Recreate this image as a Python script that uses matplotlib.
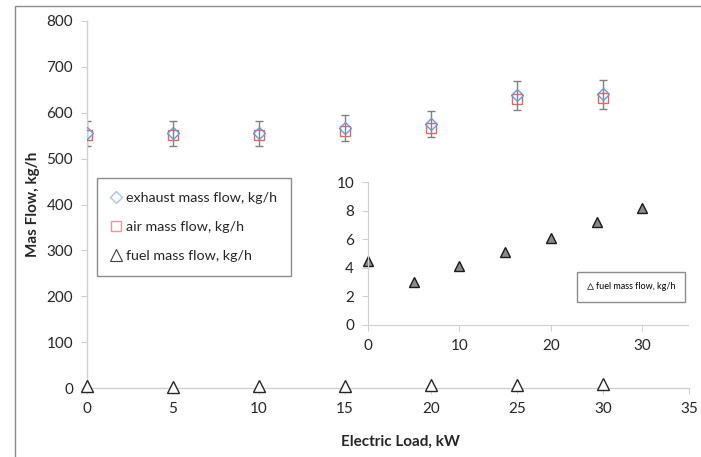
import matplotlib
matplotlib.use("Agg")
import matplotlib.pyplot as plt
from matplotlib.patches import Rectangle
from matplotlib.lines import Line2D

plt.rcParams['font.family'] = ['Lato', 'DejaVu Sans']

load_kw = [0, 5, 10, 15, 20, 25, 30]
exhaust_flow = [555, 555, 555, 566, 575, 638, 640]
air_flow = [551, 551, 551, 560, 566, 631, 632]
fuel_flow = [4.5, 3.0, 4.1, 5.1, 6.1, 7.2, 8.2]
exhaust_err = [v * 0.05 for v in exhaust_flow]

x_ticks = [0, 5, 10, 15, 20, 25, 30, 35]
y_ticks = [0, 100, 200, 300, 400, 500, 600, 700, 800]
inset_x_ticks = [0, 10, 20, 30]
inset_y_ticks = [0, 2, 4, 6, 8, 10]

W, H = 701, 457
fig = plt.figure(figsize=(W / 100, H / 100), dpi=100)

# outer border
fig.patches.append(Rectangle((15 / W, -0.1), 2.0, 1 - 6 / H + 0.1, transform=fig.transFigure,
                             fill=False, edgecolor='#8c8c8c', lw=1.0, zorder=0))

spine_c = '#d0d0d0'

ax = fig.add_axes([87 / W, 1 - 388 / H, 602 / W, (388 - 21) / H])
ax.set_xlim(0, 35)
ax.set_ylim(0, 800)
ax.set_xticks(x_ticks)
ax.set_yticks(y_ticks)
for s in ['top', 'right']:
    ax.spines[s].set_visible(False)
for s in ['left', 'bottom']:
    ax.spines[s].set_color(spine_c)
    ax.spines[s].set_linewidth(1.0)
ax.tick_params(direction='out', length=4, color=spine_c, labelsize=11, labelcolor='#262626', pad=6)
ax.set_facecolor('none')

ax.errorbar(load_kw, exhaust_flow, yerr=exhaust_err, fmt='none', ecolor='#808080',
            elinewidth=1.0, capsize=3, capthick=1.0, zorder=2)
ax.plot(load_kw, air_flow, ls='none', marker='s', ms=7.5, mfc='none', mec='#e06666', mew=1.0,
        label='air mass flow, kg/h', zorder=3)
ax.plot(load_kw, exhaust_flow, ls='none', marker='D', ms=6.5, mfc='none', mec='#6b9bd8', mew=1.0,
        label='exhaust mass flow, kg/h', zorder=4)
ax.plot(load_kw, fuel_flow, ls='none', marker='^', ms=8, mfc='white', mec='#262626', mew=1.0,
        label='fuel mass flow, kg/h', zorder=4, clip_on=False)

ax.set_xlabel('Electric Load, kW', fontsize=11, fontweight='bold', color='#262626')
ax.xaxis.set_label_coords((400 - 87) / 602, -(435 - 388) / 367)
ax.set_ylabel('Mas Flow, kg/h', fontsize=11, fontweight='bold', color='#262626')
ax.yaxis.set_label_coords(-(87 - 40) / 602, 0.5)

labels = ['exhaust mass flow, kg/h', 'air mass flow, kg/h', 'fuel mass flow, kg/h']
lh = [Line2D([], [], ls='none', marker='D', ms=6.5, mfc='none', mec='#a9c4e8', mew=1.0),
      Line2D([], [], ls='none', marker='s', ms=7.5, mfc='none', mec='#e89a9a', mew=1.0),
      Line2D([], [], ls='none', marker='^', ms=8, mfc='none', mec='#404040', mew=0.8)]
leg = ax.legend(lh, labels, loc='upper left',
                bbox_to_anchor=(97 / W, 1 - 178 / H), bbox_transform=fig.transFigure,
                fancybox=False, edgecolor='#8c8c8c', framealpha=1, fontsize=10.3,
                handlelength=0.8, handletextpad=0.3, labelspacing=1.2, borderpad=0.95,
                borderaxespad=0, numpoints=1)
leg.get_frame().set_linewidth(1.0)
for t in leg.get_texts():
    t.set_color('#262626')

# inset
ai = fig.add_axes([368 / W, 1 - 325 / H, 320 / W, (325 - 182) / H])
ai.set_facecolor('none')
ai.set_xlim(0, 35)
ai.set_ylim(0, 10)
ai.set_xticks(inset_x_ticks)
ai.set_yticks(inset_y_ticks)
for s in ['top', 'right']:
    ai.spines[s].set_visible(False)
for s in ['left', 'bottom']:
    ai.spines[s].set_color(spine_c)
ai.tick_params(direction='out', length=4, color=spine_c, labelsize=11, labelcolor='#262626', pad=6)
ai.plot(load_kw, fuel_flow, ls='none', marker='^', ms=6.5, mfc='#8a8a8a', mec='#1a1a1a', mew=1.0,
        label='fuel mass flow, kg/h', clip_on=False)
ileg = ai.legend([Line2D([], [], ls='none', marker='^', ms=5, mfc='none', mec='#404040', mew=0.6)],
                 ['fuel mass flow, kg/h'], loc='upper left',
                 bbox_to_anchor=(577 / W, 1 - 272 / H), bbox_transform=fig.transFigure,
                 fancybox=False, edgecolor='#8c8c8c', framealpha=1, fontsize=6.5,
                 handlelength=0.6, handletextpad=0.3, borderpad=1.15, borderaxespad=0,
                 numpoints=1)
ileg.get_frame().set_linewidth(1.0)

fig.savefig('out.png', dpi=100)
